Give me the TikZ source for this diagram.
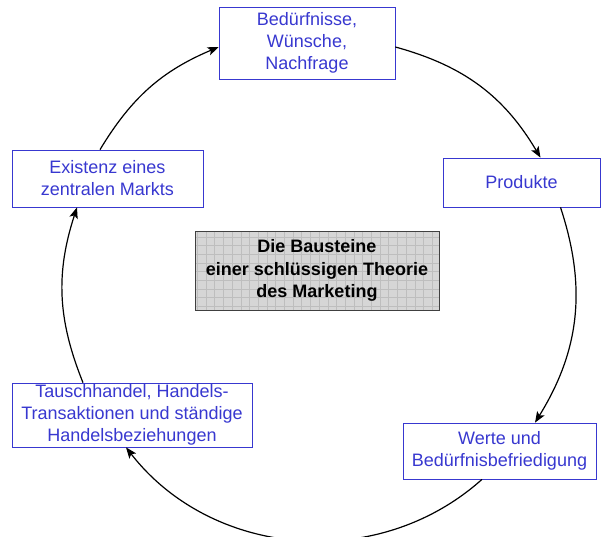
\documentclass[tikz,border=0pt]{standalone}
\usepackage{fontspec}
\setmainfont{Liberation Sans}
\usetikzlibrary{arrows.meta}

\definecolor{boxblue}{RGB}{56,56,208}
\definecolor{panelfill}{RGB}{214,214,214}
\definecolor{panelgrid}{RGB}{190,190,190}

\begin{document}
\begin{tikzpicture}[x=1pt,y=-1pt,
  blockbox/.style={draw=boxblue, line width=0.7pt, text=boxblue, align=center,
    inner sep=0pt, font=\fontsize{18}{22}\selectfont},
  corebox/.style={draw=black!75, line width=0.7pt, fill=panelfill, align=center,
    inner sep=0pt, font=\fontsize{18}{22.5}\selectfont\bfseries,
    path picture={\draw[panelgrid, line width=0.4pt]
      (path picture bounding box.south west) grid[step=8.7pt]
      (path picture bounding box.north east);}},
  flow/.style={draw=black, line width=1.2pt,
    -{Stealth[length=11pt,width=8.5pt,inset=2.5pt]}}
]
  % canvas
  \path[use as bounding box, fill=white] (0,0) rectangle (602,537);

  % building blocks around the cycle
  \node[blockbox, minimum width=176pt, minimum height=72pt] (needs) at (307,43)
    {Bedürfnisse,\\Wünsche,\\Nachfrage};
  \node[blockbox, minimum width=157pt, minimum height=49pt] (products) at (521.5,182.5)
    {Produkte};
  \node[blockbox, minimum width=193pt, minimum height=56pt] (values) at (499.5,451)
    {Werte und\\Bedürfnisbefriedigung};
  \node[blockbox, minimum width=240pt, minimum height=64pt] (trade) at (132,415)
    {Tauschhandel, Handels-\\Transaktionen und ständige\\Handelsbeziehungen};
  \node[blockbox, minimum width=191pt, minimum height=57pt] (market) at (107.5,178.5)
    {Existenz eines\\zentralen Markts};

  % central panel
  \node[corebox, minimum width=244pt, minimum height=79pt] (core) at (317,270.5)
    {Die Bausteine\\einer schlüssigen Theorie\\des Marketing};

  % cycle of curved arrows
  \draw[flow] ([yshift=-4pt]needs.east) to[bend left=22] ([xshift=19pt]products.north);
  \draw[flow] ([xshift=39pt]products.south) to[bend left=25] ([xshift=35.5pt]values.north);
  \draw[flow] ([xshift=-17.5pt]values.south) to[bend left=47] ([xshift=-6pt]trade.south);
  \draw[flow] ([xshift=-49pt]trade.north) to[bend left=20] ([xshift=-30.5pt]market.south);
  \draw[flow] ([xshift=-7.5pt]market.north) to[bend left=18] ([yshift=-4pt]needs.west);
\end{tikzpicture}
\end{document}
